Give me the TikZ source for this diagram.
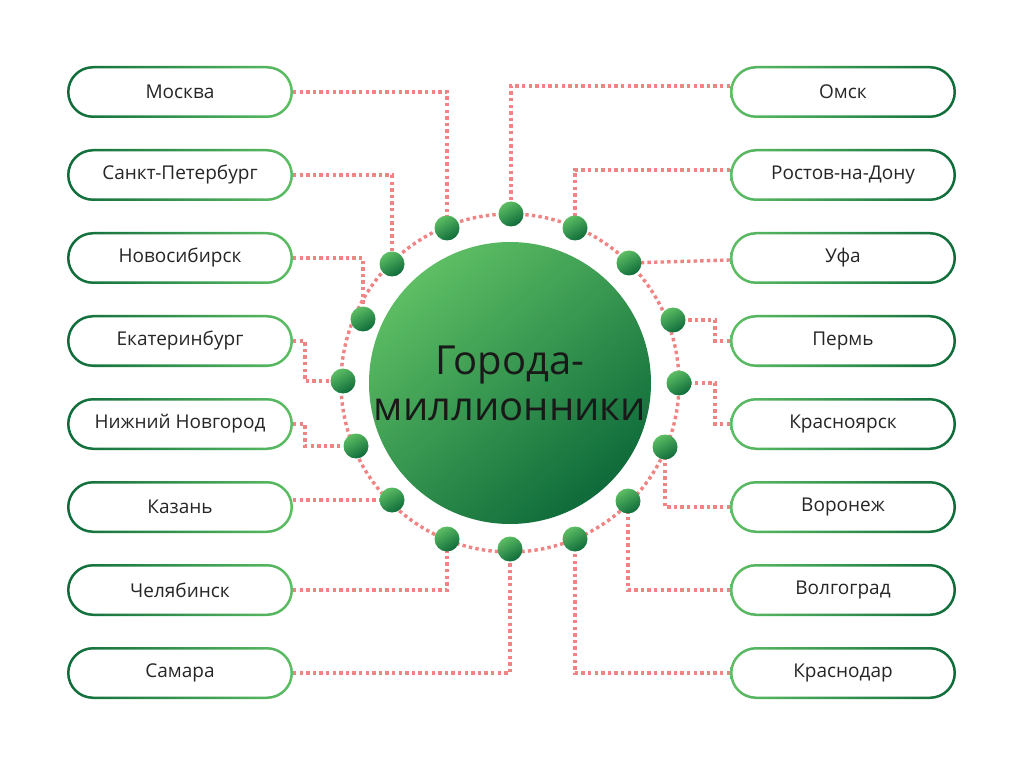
\documentclass[tikz,border=0pt]{standalone}
\usepackage{fontspec}
\setmainfont{Open Sans}
\begin{document}
\begin{tikzpicture}[x=1pt,y=-1pt]
\definecolor{dk}{HTML}{0E6B3A}
\definecolor{lt}{HTML}{5DBE64}
\definecolor{ln}{HTML}{F08484}
\tikzset{conn/.style={ln,line width=3.4pt,dash pattern=on 3.4pt off 3.2pt},
 dot/.style={circle,minimum size=25pt,inner sep=0pt,shading=axis,top color=lt,bottom color=dk,shading angle=30},
 lbl/.style={font=\fontsize{19}{22}\selectfont,text=black!85}}
\useasboundingbox (0,0) rectangle (1023,767);
\fill[white] (0,0) rectangle (1023,767);
\draw[conn] (510,383) circle (169);
\newcommand\boxL[3]{%
 \path[left color=dk,right color=lt,even odd rule,rounded corners=26] (67,{#1-26}) rectangle (293,{#1+26})
   [rounded corners=23.5] (69.5,{#1-23.5}) rectangle (290.5,{#1+23.5});
 \node[lbl] (#2) at (180,#1) {#3};}
\newcommand\boxR[3]{%
 \path[left color=lt,right color=dk,even odd rule,rounded corners=26] (730,{#1-26}) rectangle (956,{#1+26})
   [rounded corners=23.5] (732.5,{#1-23.5}) rectangle (953.5,{#1+23.5});
 \node[lbl] (#2) at (843,#1) {#3};}
\foreach \n/\x/\y in {a/447/228,b/511/214,c/575/228,d/392/264,e/629/263,f/363/319,g/673/320,h/343/381,i/679/383,j/356/446,k/665/447,l/392/500,m/628/501,n/447/539,o/510/549,p/575/539}{\coordinate (d\n) at (\x,\y);}
\coordinate (L1) at (293,92);\coordinate (L2) at (293,175);\coordinate (L3) at (293,258);\coordinate (L4) at (293,341);
\coordinate (L5) at (293,424);\coordinate (L6) at (293,500);\coordinate (L7) at (293,590);\coordinate (L8) at (293,673);
\coordinate (R1) at (730,86);\coordinate (R2) at (730,170);\coordinate (R3) at (730,260);\coordinate (R4) at (730,341);
\coordinate (R5) at (730,424);\coordinate (R6) at (730,507);\coordinate (R7) at (730,590);\coordinate (R8) at (730,673);
\draw[conn] (L1) -| (da);
\draw[conn] (L2) -| (dd);
\draw[conn] (L3) -| (df);
\draw[conn] (L4) -- (305,341) |- (dh);
\draw[conn] (L5) -- (305,424) |- (dj);
\draw[conn] (L6) -- (dl);
\draw[conn] (L7) -| (dn);
\draw[conn] (L8) -| (do);
\draw[conn] (R1) -| (db);
\draw[conn] (R2) -| (dc);
\draw[conn] (R3) -- (de);
\draw[conn] (R4) -- (715,341) |- (dg);
\draw[conn] (R5) -- (715,424) |- (di);
\draw[conn] (R6) -| (dk);
\draw[conn] (R7) -| (dm);
\draw[conn] (R8) -| (dp);
\foreach \n in {a,b,c,d,e,f,g,h,i,j,k,l,m,n,o,p}{\node[dot] (D\n) at (d\n) {};}
\node[circle,minimum size=270pt,inner sep=0pt,shading=axis,top color=lt,bottom color=dk,shading angle=40,
  align=center,font=\fontsize{40}{46}\selectfont,text=black!90] (C) at (510,383) {Города-\\миллионники};
\boxL{92}{l1}{Москва}
\boxL{175}{l2}{Санкт-Петербург}
\boxL{258}{l3}{Новосибирск}
\boxL{341}{l4}{Екатеринбург}
\boxL{424}{l5}{Нижний Новгород}
\boxL{507}{l6}{Казань}
\boxL{590}{l7}{Челябинск}
\boxL{673}{l8}{Самара}
\boxR{92}{r1}{Омск}
\boxR{175}{r2}{Ростов-на-Дону}
\boxR{258}{r3}{Уфа}
\boxR{341}{r4}{Пермь}
\boxR{424}{r5}{Красноярск}
\boxR{507}{r6}{Воронеж}
\boxR{590}{r7}{Волгоград}
\boxR{673}{r8}{Краснодар}
\end{tikzpicture}
\end{document}
